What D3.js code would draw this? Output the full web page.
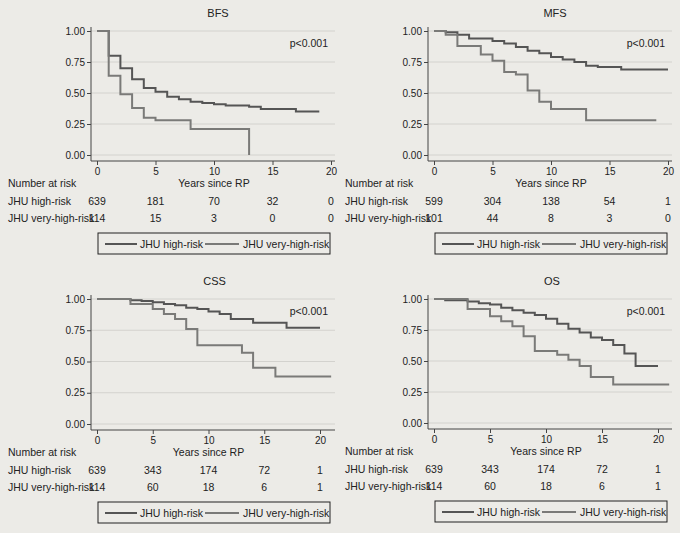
<!DOCTYPE html>
<html><head><meta charset="utf-8">
<script src="https://cdn.jsdelivr.net/npm/d3@7"></script>
<style>body{margin:0;background:#ecebe7;}svg{display:block;font-family:"Liberation Sans",Arial,sans-serif;}</style>
</head><body>
<svg id="c" width="680" height="533"></svg>
<script>
const titles = ["BFS","MFS","CSS","OS"];
const seriesNames = ["JHU high-risk","JHU very-high-risk"];
const riskTimes = [0,5,10,15,20];
const yTicks = [0,0.25,0.5,0.75,1];
const bfsHigh = [[0,1],[1,0.8],[2,0.7],[3,0.61],[4,0.54],[5,0.51],[6,0.47],[7,0.45],[8,0.43],[9,0.42],[10,0.41],[11,0.40],[13,0.39],[14,0.37],[17,0.35],[19,0.35]];
const bfsVery = [[0,1],[1,0.64],[2,0.49],[3,0.38],[4,0.30],[5,0.28],[8,0.21],[13,0.0],[13,0.0]];
const mfsHigh = [[0,1],[1,0.99],[2,0.97],[3,0.94],[5,0.92],[6,0.90],[7,0.87],[8,0.84],[9,0.82],[10,0.79],[11,0.77],[12,0.75],[13,0.72],[14,0.71],[16,0.69],[20,0.69]];
const mfsVery = [[0,1],[1,0.97],[2,0.88],[4,0.81],[5,0.76],[6,0.67],[7,0.65],[8,0.52],[9,0.43],[10,0.37],[13,0.28],[19,0.28]];
const cssHigh = [[0,1],[3,0.99],[4,0.985],[5,0.975],[6,0.96],[7,0.95],[8,0.93],[9,0.92],[10,0.90],[11,0.88],[12,0.84],[14,0.81],[17,0.77],[20,0.77]];
const cssVery = [[0,1],[3,0.96],[5,0.92],[6,0.88],[7,0.84],[8,0.76],[9,0.63],[13,0.57],[14,0.45],[16,0.38],[21,0.38]];
const osHigh = [[0,1],[1,0.99],[3,0.98],[4,0.965],[5,0.955],[6,0.93],[7,0.91],[8,0.89],[9,0.87],[10,0.84],[11,0.80],[12,0.76],[13,0.73],[14,0.69],[15,0.67],[16,0.63],[17,0.56],[18,0.46],[20,0.46]];
const osVery = [[0,1],[3,0.92],[5,0.86],[6,0.82],[7,0.78],[8,0.70],[9,0.58],[11,0.55],[12,0.51],[13,0.46],[14,0.37],[16,0.31],[21,0.31]];
const riskHigh = [[639,181,70,32,0],[599,304,138,54,1],[639,343,174,72,1],[639,343,174,72,1]];
const riskVery = [[114,15,3,0,0],[101,44,8,3,0],[114,60,18,6,1],[114,60,18,6,1]];
const curves = [[bfsHigh,bfsVery],[mfsHigh,mfsVery],[cssHigh,cssVery],[osHigh,osVery]];

const panels = [
 {ox:0, x0:97, x20:331, xr:335, yt:31, yb:155, ax:91},
 {ox:337, x0:434, x20:668, xr:672, yt:31, yb:155, ax:428},
 {ox:0, x0:97, x20:320, xr:335, yt:299, yb:424, ax:91},
 {ox:337, x0:434, x20:658, xr:672, yt:299, yb:423, ax:428}
];
const colors = ["#555555","#7a7a78"];
const svg = d3.select("#c");
panels.forEach((p,i)=>{
  const g = svg.append("g");
  const x = d3.scaleLinear().domain([0,20]).range([p.x0,p.x20]);
  const y = d3.scaleLinear().domain([0,1]).range([p.yb,p.yt]);
  g.selectAll(".gr").data(yTicks).join("line").attr("x1",p.ax).attr("x2",p.xr)
    .attr("y1",d=>y(d)).attr("y2",d=>y(d)).attr("stroke","#d3d2ce").attr("stroke-width",1);
  const ya = g.append("g").attr("transform",`translate(${p.ax},0)`)
    .call(d3.axisLeft(y).tickValues(yTicks).tickFormat(d3.format(".2f")).tickSize(4).tickSizeOuter(0));
  const xa = g.append("g").attr("transform",`translate(0,${p.yb+6})`)
    .call(d3.axisBottom(x).tickValues([0,5,10,15,20]).tickSize(4).tickSizeOuter(0));
  xa.select(".domain").attr("d",`M${p.ax},0H${p.xr}`);
  ya.select(".domain").attr("d",`M0,${p.yt-4}V${p.yb+6}`);
  [ya,xa].forEach(a=>{a.selectAll("path,line").attr("stroke","#444");a.selectAll("text").attr("fill","#222").attr("font-size",10).attr("font-family","Liberation Sans, Arial");});
  ya.selectAll("text").attr("x",-6);
  g.append("text").attr("x",(p.x0+p.x20)/2+(i<2?4:6)).attr("y",p.yt-14).attr("text-anchor","middle").attr("font-size",11).attr("fill","#222").text(titles[i]);
  g.append("text").attr("x",p.xr-7).attr("y",p.yt+16).attr("text-anchor","end").attr("font-size",10.5).attr("fill","#222").text("p<0.001");
  const line = d3.line().x(d=>x(d[0])).y(d=>y(d[1])).curve(d3.curveStepAfter);
  curves[i].forEach((c,k)=>{
    g.append("path").attr("d",line(c)).attr("fill","none").attr("stroke",colors[k]).attr("stroke-width",2);
  });
  const ry = p.yb + 36;
  g.append("text").attr("x",p.ox+8).attr("y",ry-4).attr("font-size",10.5).attr("fill","#222").text("Number at risk");
  g.append("text").attr("x",(p.x0+p.x20)/2).attr("y",ry-4).attr("text-anchor","middle").attr("font-size",10.5).attr("fill","#222").text("Years since RP");
  [riskHigh[i],riskVery[i]].forEach((row,k)=>{
    const yy = ry + 14 + k*17;
    g.append("text").attr("x",p.ox+8).attr("y",yy).attr("font-size",10.5).attr("fill","#222").text(seriesNames[k]);
    g.selectAll(null).data(row).join("text").attr("x",(d,j)=>x(riskTimes[j])).attr("y",yy)
      .attr("text-anchor","middle").attr("font-size",10.5).attr("fill","#222").text(d=>d);
  });
  const ly = ry + 42;
  g.append("rect").attr("x",p.ox+98).attr("y",ly).attr("width",232).attr("height",21).attr("fill","none").attr("stroke","#222").attr("stroke-width",1);
  const lx = p.ox+105;
  g.append("line").attr("x1",lx).attr("x2",lx+32).attr("y1",ly+11).attr("y2",ly+11).attr("stroke",colors[0]).attr("stroke-width",2);
  g.append("text").attr("x",lx+35).attr("y",ly+14.5).attr("font-size",10.5).attr("fill","#222").text(seriesNames[0]);
  g.append("line").attr("x1",lx+100).attr("x2",lx+134).attr("y1",ly+11).attr("y2",ly+11).attr("stroke",colors[1]).attr("stroke-width",2);
  g.append("text").attr("x",lx+138).attr("y",ly+14.5).attr("font-size",10.5).attr("fill","#222").text(seriesNames[1]);
});
</script>
</body></html>
